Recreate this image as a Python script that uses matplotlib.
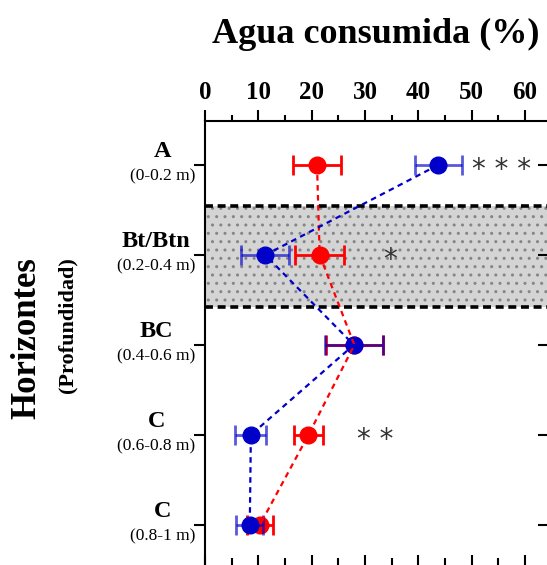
import matplotlib
matplotlib.use('Agg')
import matplotlib.pyplot as plt
from matplotlib.offsetbox import TextArea, VPacker, AnnotationBbox

plt.rcParams['font.family'] = ['Liberation Serif', 'DejaVu Serif']
plt.rcParams['hatch.linewidth'] = 1.0
plt.rcParams['hatch.color'] = '#858585'

# ── data ──
horizons = ['A', 'Bt/Btn', 'BC', 'C', 'C']
depths = ['(0-0.2 m)', '(0.2-0.4 m)', '(0.4-0.6 m)', '(0.6-0.8 m)', '(0.8-1 m)']
red_mean = [21.0, 21.5, 28.0, 19.4, 10.3]
red_err = [4.5, 4.6, 5.4, 2.8, 2.5]
blue_mean = [43.7, 11.3, 27.9, 8.6, 8.4]
blue_err = [4.4, 4.5, 5.4, 2.9, 2.5]
signif = ['* * *', '*', '', '* *', '']
signif_x = [55.5, 34.7, None, 32.0, None]

RED = '#ff0000'
BLUE = '#0000c8'

fig = plt.figure(figsize=(5.47, 5.65), dpi=100)
ax = fig.add_axes([205 / 547, -0.002, 344 / 547, 444 / 565 + 0.002])
ypos = list(range(len(horizons)))

# shaded Bt/Btn band
ax.axhspan(0.456, 1.58, facecolor='#d4d4d4', edgecolor='#858585', hatch='..', lw=0, zorder=0)
for yb in (0.456, 1.58):
    ax.axhline(yb, color='black', lw=2.6, ls=(0, (2.2, 1.3)), zorder=1)

# dashed profiles
ax.plot(red_mean, ypos, color=RED, lw=1.6, ls=(0, (2.5, 2)), zorder=6)
ax.plot(blue_mean, ypos, color=BLUE, lw=1.6, ls=(0, (2.5, 2)), zorder=6)

ax.errorbar(red_mean, ypos, xerr=red_err, fmt='o', color=RED, ms=12, ecolor=RED,
            elinewidth=2, capsize=7, capthick=2, zorder=3)
ax.errorbar(blue_mean, ypos, xerr=blue_err, fmt='none', ecolor=BLUE,
            elinewidth=2, capsize=7, capthick=2, alpha=0.65, zorder=4)
ax.plot(blue_mean, ypos, 'o', color=BLUE, ms=12, zorder=5)

for s, sx, y in zip(signif, signif_x, ypos):
    if s:
        ax.text(sx, y + 0.06, s, ha='center', va='center', fontsize=20,
                color='#333333', family='DejaVu Sans')

ax.set_xlim(0, 64.5)
ax.set_ylim(4.46, -0.49)

# top axis: labelled, ticks outward
ax.xaxis.set_ticks_position('top')
ax.set_xticks(range(0, 61, 10))
ax.set_xticks(range(5, 65, 10), minor=True)
ax.tick_params(axis='x', which='major', direction='out', length=8, width=1.5, labelsize=18, pad=4)
ax.tick_params(axis='x', which='minor', direction='out', length=4, width=1.5)
for lbl in ax.get_xticklabels():
    lbl.set_fontweight('bold')

# bottom axis: ticks inward, no labels
bx = ax.secondary_xaxis('bottom')
bx.set_xticks(range(0, 61, 10))
bx.set_xticks(range(5, 65, 10), minor=True)
bx.tick_params(which='major', direction='in', length=8, width=1.5, labelbottom=False)
bx.tick_params(which='minor', direction='in', length=6, width=1.5)
bx.spines['bottom'].set_linewidth(1.5)

ax.set_yticks(ypos)
ax.set_yticklabels([])
ax.tick_params(axis='y', which='major', left=True, right=False, direction='out', length=8, width=1.5)
ry = ax.secondary_yaxis('right')
ry.set_yticks(ypos)
ry.tick_params(direction='in', length=8, width=1.5, labelright=False)
for side in ('top', 'bottom', 'left', 'right'):
    ax.spines[side].set_linewidth(1.5)

fig.text(376 / 547, 1 - 43 / 565, 'Agua consumida (%)', ha='center', va='baseline',
         fontsize=26, fontweight='bold')

# two-line horizon labels
for h, d, y in zip(horizons, depths, ypos):
    box = VPacker(children=[TextArea(h, textprops=dict(fontsize=17.5, fontweight='bold')),
                            TextArea(d, textprops=dict(fontsize=12.5))],
                  align='center', pad=0, sep=5)
    ab = AnnotationBbox(box, (0, y), xybox=(-7, 0), xycoords=('axes fraction', 'data'),
                        boxcoords='offset points', box_alignment=(1, 0.45), frameon=False)
    ax.add_artist(ab)

fig.text(27 / 547, 1 - 257 / 565, 'Horizontes', rotation=90, ha='center', va='top',
         fontsize=25, fontweight='bold')
fig.text(67 / 547, 1 - 257 / 565, '(Profundidad)', rotation=90, ha='center', va='top',
         fontsize=16, fontweight='bold')

fig.savefig('out.png', dpi=100)
